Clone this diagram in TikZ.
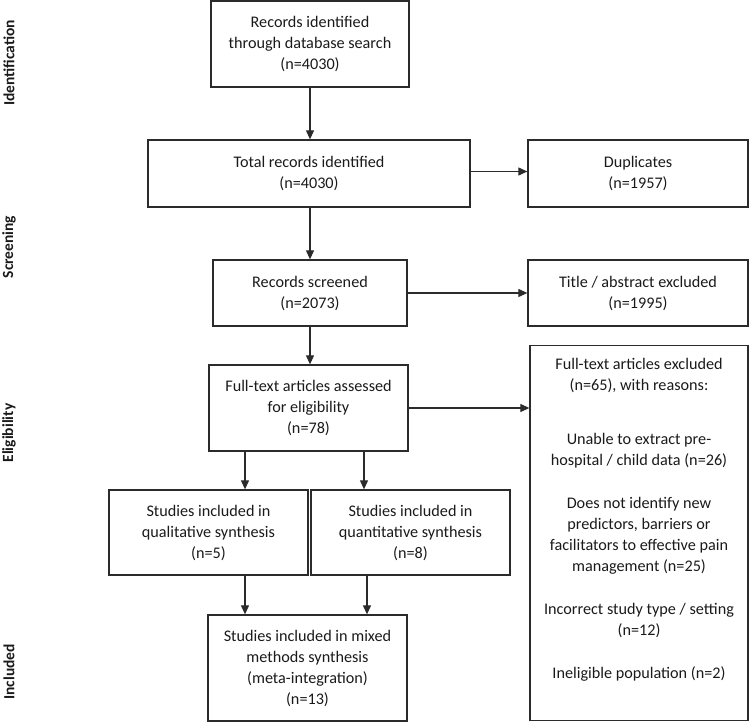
\documentclass[tikz,border=0pt]{standalone}
\usepackage{fontspec}
\setmainfont{Carlito}
\usetikzlibrary{arrows.meta,calc}
\definecolor{ln}{HTML}{2B2B2B}
\definecolor{tx}{HTML}{1A1A1A}
\tikzset{
  box/.style={draw=ln, line width=1.3pt, rectangle, align=center, inner sep=0pt,
    font=\fontsize{16.2}{21}\selectfont, text=tx},
  arr/.style={draw=ln, line width=1.1pt, -{Triangle[length=9pt,width=8pt]}},
  phase/.style={rotate=90, font=\fontsize{15.5}{17}\selectfont\bfseries, text=tx}
}
\begin{document}
\begin{tikzpicture}[x=1pt,y=-1pt]
\useasboundingbox (0,0) rectangle (750,722);
% boxes
\node[box, minimum width=198, minimum height=86] (b1) at (310,44) {Records identified\\through database search\\(n=4030)};
\node[box, minimum width=322, minimum height=67] (b2) at (309,173.5) {Total records identified\\(n=4030)};
\node[box, minimum width=220, minimum height=67] (dup) at (638,173.5) {Duplicates\\(n=1957)};
\node[box, minimum width=194, minimum height=66] (b3) at (310,293) {Records screened\\(n=2073)};
\node[box, minimum width=220, minimum height=66] (tit) at (638,293) {Title / abstract excluded\\(n=1995)};
\node[box, minimum width=199, minimum height=86] (b4) at (308.5,408) {Full-text articles assessed\\for eligibility\\(n=78)};
\node[box, minimum width=218, minimum height=375] (exc) at (639,533) {};
\node[anchor=north, align=center, inner sep=0pt, font=\fontsize{16.2}{21}\selectfont, text=tx] (exct) at ([yshift=-13pt]exc.north)
  {Full-text articles excluded\\(n=65), with reasons:\\[33pt]
   Unable to extract pre-\\hospital / child data (n=26)\\[22pt]
   Does not identify new\\predictors, barriers or\\facilitators to effective pain\\management (n=25)\\[22pt]
   Incorrect study type / setting\\(n=12)\\[22pt]
   Ineligible population (n=2)};
\node[box, minimum width=199, minimum height=85] (qual) at (208.5,532.5) {Studies included in\\qualitative synthesis\\(n=5)};
\node[box, minimum width=199, minimum height=85] (quan) at (410.5,532.5) {Studies included in\\quantitative synthesis\\(n=8)};
\node[box, minimum width=199, minimum height=106] (mix) at (307.5,668) {Studies included in mixed\\methods synthesis\\(meta-integration)\\(n=13)};
% phase labels
\node[phase] (pid) at (9,63) {Identification};
\node[phase] (psc) at (9,247) {Screening};
\node[phase] (pel) at (9,433) {Eligibility};
\node[phase] (pin) at (9,672) {Included};
% arrows
\draw[arr] (b1.south) -- (b1.south |- b2.north);
\draw[arr] ([yshift=2pt]b2.east) -- ([yshift=2pt]b2.east -| dup.west);
\draw[arr] (b1.south |- b2.south) -- (b1.south |- b3.north);
\draw[arr] (b3.east) -- (b3.east -| tit.west);
\draw[arr] (b3.south) -- (b3.south |- b4.north);
\draw[arr] (b4.east) -- (b4.east -| exc.west);
\draw[arr] ([xshift=-63.5pt]b4.south) -- ([xshift=-63.5pt]b4.south |- qual.north);
\draw[arr] ([xshift=55.5pt]b4.south) -- ([xshift=55.5pt]b4.south |- quan.north);
\draw[arr] ([xshift=36.5pt]qual.south) -- ([xshift=36.5pt]qual.south |- mix.north);
\draw[arr] ([xshift=-43.5pt]quan.south) -- ([xshift=-43.5pt]quan.south |- mix.north);
\end{tikzpicture}
\end{document}
